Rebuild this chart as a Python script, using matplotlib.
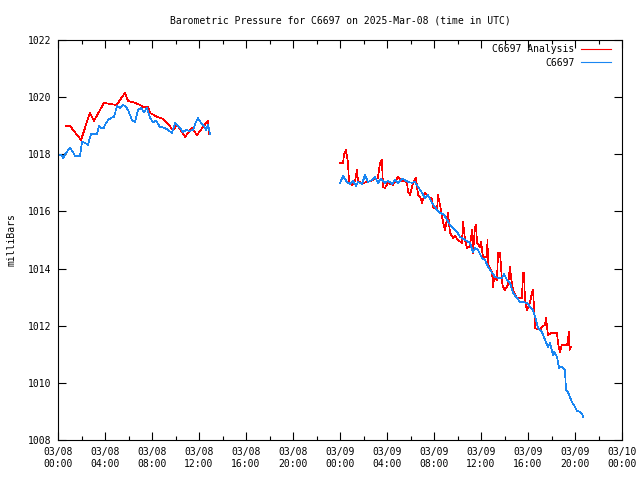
import matplotlib
matplotlib.use("Agg")
import matplotlib.pyplot as plt
from matplotlib.ticker import MultipleLocator, FixedLocator
import numpy as np

# hours since 2025-03-08 00:00 UTC, pressure in mbar
c6697_hours = [
    0.00, 0.26, 0.43, 0.68, 1.02, 1.28, 1.45, 1.87, 2.04, 2.30, 2.55, 2.81, 3.32, 3.49, 3.66, 3.91,
    4.00, 4.26, 4.51, 4.77, 5.02, 5.28, 5.53, 5.79, 5.96, 6.30, 6.55, 6.81, 7.06, 7.32, 7.57, 7.83,
    8.09, 8.34, 8.68, 9.11, 9.45, 9.70, 9.96, 10.21, 10.38, 10.64, 10.89, 11.23, 11.49, 11.74, 11.91,
    12.17, 12.43, 12.60, 12.77, 12.94,
    None,
    24.00, 24.26, 24.60, 24.85, 25.11, 25.36, 25.53, 25.87, 26.13, 26.38, 26.72, 26.98, 27.23, 27.49,
    27.83, 28.09, 28.43, 28.68, 28.94, 29.28, 29.53, 29.79, 30.13, 30.38, 30.64, 30.98, 31.23, 31.49,
    31.83, 32.26, 32.51, 32.85, 33.11, 33.36, 33.62, 33.96, 34.21, 34.64, 35.06, 35.32, 35.49, 35.74,
    36.09, 36.34, 36.60, 36.94, 37.19, 37.45, 37.79, 37.96, 38.21, 38.47, 38.72, 39.06, 39.32, 39.57,
    39.91, 40.17, 40.43, 40.68, 40.85, 41.19, 41.45, 41.70, 41.87, 42.13, 42.21, 42.47, 42.64, 42.89,
    43.15, 43.23, 43.40, 43.57, 43.74, 44.00, 44.17, 44.43, 44.60, 44.68,
]
c6697_mbar = [
    1017.98, 1017.98, 1017.87, 1018.05, 1018.22, 1018.08, 1017.94, 1017.94, 1018.43, 1018.40, 1018.33,
    1018.71, 1018.71, 1018.99, 1018.92, 1018.92, 1019.03, 1019.20, 1019.27, 1019.31, 1019.69, 1019.62,
    1019.73, 1019.66, 1019.55, 1019.20, 1019.13, 1019.55, 1019.62, 1019.48, 1019.62, 1019.27, 1019.13,
    1019.17, 1018.96, 1018.92, 1018.82, 1018.75, 1019.10, 1018.99, 1018.92, 1018.78, 1018.85, 1018.82,
    1018.85, 1019.13, 1019.27, 1019.10, 1018.99, 1018.85, 1019.03, 1018.71,
    None,
    1017.00, 1017.24, 1017.03, 1016.96, 1017.07, 1016.89, 1017.03, 1016.96, 1017.28, 1017.03, 1017.10,
    1017.21, 1017.00, 1017.14, 1017.00, 1017.07, 1016.96, 1017.10, 1017.00, 1017.14, 1017.10, 1017.03,
    1017.00, 1017.03, 1016.86, 1016.65, 1016.47, 1016.58, 1016.30, 1016.05, 1015.95, 1015.88, 1015.70,
    1015.53, 1015.42, 1015.28, 1015.11, 1015.00, 1014.90, 1014.58, 1014.72, 1014.65, 1014.37, 1014.30,
    1014.06, 1013.85, 1013.71, 1013.67, 1013.67, 1013.81, 1013.60, 1013.50, 1013.15, 1012.97, 1012.83,
    1012.83, 1012.80, 1012.66, 1012.55, 1012.20, 1011.92, 1011.78, 1011.50, 1011.26, 1011.40, 1010.98,
    1011.08, 1010.91, 1010.52, 1010.56, 1010.45, 1009.75, 1009.68, 1009.51, 1009.33, 1009.16, 1009.02,
    1008.98, 1008.91, 1008.81,
]

analysis_hours = [
    0.68, 1.02, 1.96, 2.72, 3.06, 3.91, 4.94, 5.11, 5.70, 5.96, 6.55, 6.98, 7.23, 7.66, 7.83, 8.43,
    8.94, 9.28, 9.79, 10.13, 10.81, 11.40, 11.83, 12.34, 12.77, 12.85,
    None,
    24.00, 24.26, 24.34, 24.51, 24.68, 24.77, 25.02, 25.28, 25.45, 25.53, 25.96, 26.38, 26.81, 27.23,
    27.40, 27.57, 27.66, 27.83, 28.09, 28.51, 28.94, 29.28, 29.70, 29.79, 29.96, 30.13, 30.21, 30.47,
    30.64, 30.81, 30.98, 31.23, 31.49, 31.83, 31.91, 32.26, 32.34, 32.51, 32.77, 32.94, 33.02, 33.19,
    33.36, 33.62, 33.79, 34.04, 34.38, 34.47, 34.64, 34.81, 35.06, 35.23, 35.32, 35.49, 35.57, 35.66,
    35.91, 36.00, 36.17, 36.51, 36.55, 36.60, 36.94, 37.02, 37.11, 37.36, 37.45, 37.62, 37.79, 37.87,
    38.04, 38.30, 38.47, 38.55, 38.72, 39.06, 39.49, 39.57, 39.66, 39.74, 39.91, 40.17, 40.34, 40.43,
    40.60, 41.02, 41.19, 41.45, 41.53, 41.62, 41.70, 41.96, 42.47, 42.55, 42.72, 42.89, 43.32, 43.40,
    43.49, 43.53, 43.66,
]
analysis_mbar = [
    1018.99, 1018.99, 1018.50, 1019.45, 1019.17, 1019.80, 1019.73, 1019.80, 1020.15, 1019.87, 1019.80,
    1019.73, 1019.66, 1019.66, 1019.45, 1019.31, 1019.24, 1019.10, 1018.85, 1019.03, 1018.61, 1018.92,
    1018.67, 1018.96, 1019.17, 1018.71,
    None,
    1017.70, 1017.70, 1017.98, 1018.15, 1017.70, 1017.00, 1016.93, 1017.07, 1017.45, 1017.03, 1017.00,
    1017.03, 1017.10, 1017.17, 1017.70, 1017.80, 1016.86, 1016.82, 1017.00, 1016.93, 1017.21, 1017.07,
    1017.03, 1016.68, 1016.58, 1016.86, 1017.00, 1017.17, 1016.58, 1016.51, 1016.30, 1016.65, 1016.54,
    1016.44, 1016.16, 1016.05, 1016.58, 1016.23, 1015.63, 1015.35, 1015.53, 1015.95, 1015.25, 1015.07,
    1015.14, 1015.00, 1014.90, 1015.63, 1015.00, 1014.72, 1014.76, 1015.35, 1014.55, 1015.46, 1015.53,
    1014.90, 1014.76, 1014.93, 1014.41, 1014.41, 1015.00, 1014.13, 1013.88, 1013.36, 1013.67, 1013.60,
    1014.55, 1014.55, 1013.53, 1013.36, 1013.25, 1013.43, 1014.06, 1013.71, 1013.25, 1012.97, 1012.97,
    1013.85, 1013.85, 1012.90, 1012.55, 1012.80, 1013.18, 1013.25, 1011.92, 1011.85, 1011.96, 1012.03,
    1012.27, 1011.96, 1011.68, 1011.74, 1011.74, 1011.40, 1011.08, 1011.33, 1011.33, 1011.50, 1011.78,
    1011.15, 1011.26,
]

x_tick_labels = ["03/08\n00:00", "03/08\n04:00", "03/08\n08:00", "03/08\n12:00", "03/08\n16:00",
                 "03/08\n20:00", "03/09\n00:00", "03/09\n04:00", "03/09\n08:00", "03/09\n12:00",
                 "03/09\n16:00", "03/09\n20:00", "03/10\n00:00"]
y_ticks = [1008, 1010, 1012, 1014, 1016, 1018, 1020, 1022]

title = "Barometric Pressure for C6697 on 2025-Mar-08 (time in UTC)"


def to_arr(v):
    return np.array([np.nan if a is None else a for a in v], dtype=float)


plt.rcParams['font.family'] = ['DejaVu Sans Mono']
fig = plt.figure(figsize=(6.4, 4.8), dpi=100)
ax = fig.add_axes([58 / 640, 40 / 480, 564 / 640, 400 / 480])

ax.plot(to_arr(analysis_hours), to_arr(analysis_mbar), color='#ff0000', lw=0.5,
        label='C6697 Analysis', antialiased=False)
ax.plot(to_arr(c6697_hours), to_arr(c6697_mbar), color='#1a86f2', lw=0.5,
        label='C6697', antialiased=False)

ax.set_xlim(0, 48)
ax.set_ylim(1008, 1022)
ax.xaxis.set_major_locator(FixedLocator(np.arange(0, 49, 4)))
ax.set_xticklabels(x_tick_labels)
ax.xaxis.set_minor_locator(MultipleLocator(2))
ax.set_yticks(y_ticks)
ax.set_yticklabels([str(v) for v in y_ticks])

ax.tick_params(axis='both', which='major', direction='in', length=6, width=0.8,
               top=True, right=True, labelsize=7, pad=5, colors='black')
ax.tick_params(axis='both', which='minor', direction='in', length=3, width=0.8,
               top=True, right=True)
for s in ax.spines.values():
    s.set_linewidth(0.8)

ax.set_title(title, fontsize=7, pad=12)
ax.set_ylabel('milliBars', fontsize=7, labelpad=8)

leg = ax.legend(loc='upper right', frameon=False, fontsize=7, markerfirst=False,
                handlelength=3.1, handletextpad=0.6, labelspacing=0.35,
                borderaxespad=0.3, bbox_to_anchor=(0.992, 1.006))
for h in leg.get_lines():
    h.set_linewidth(0.8)

fig.savefig('out.png', dpi=100)
